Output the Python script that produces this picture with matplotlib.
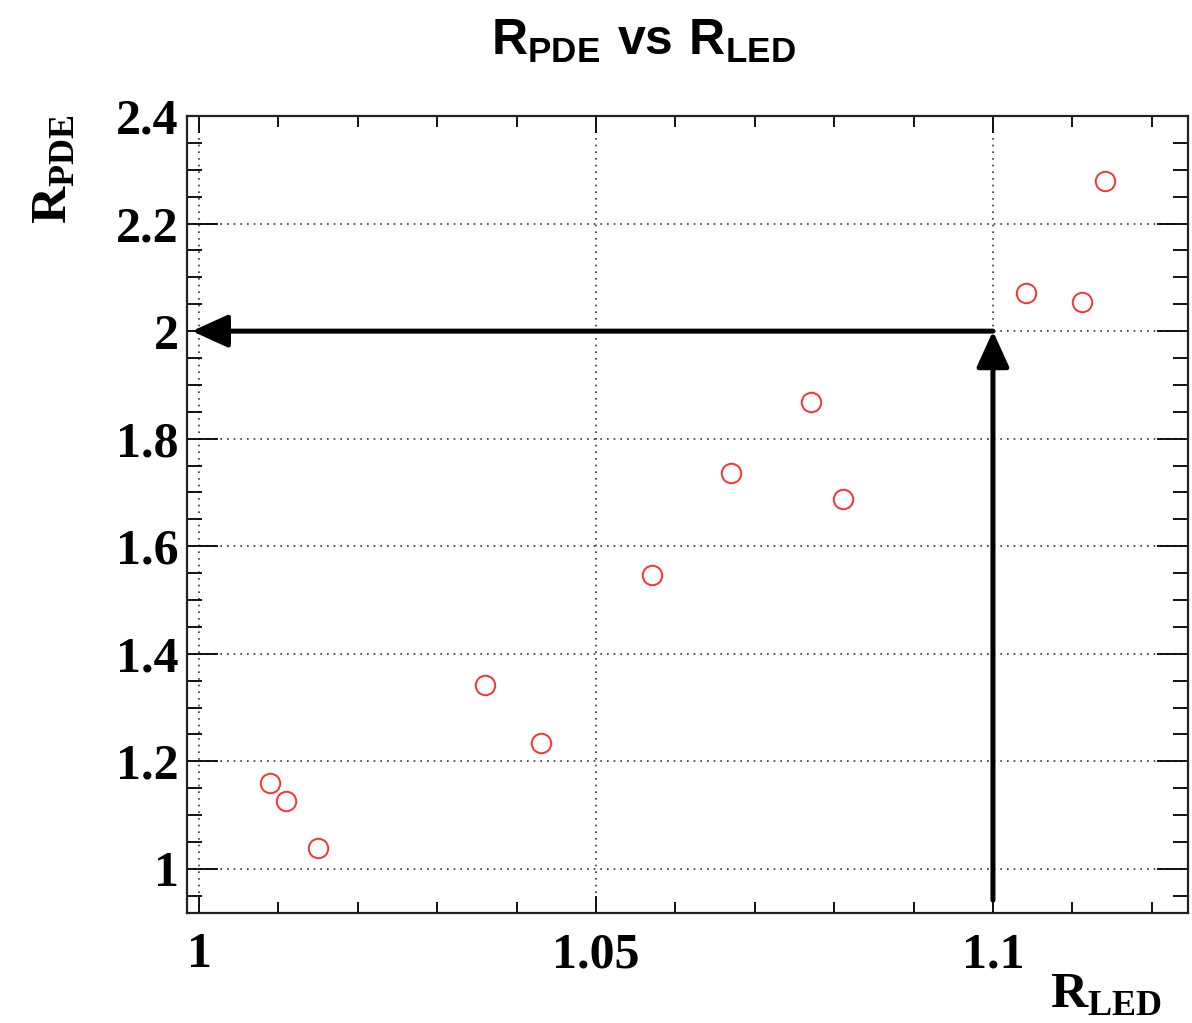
import numpy as np
import matplotlib
matplotlib.use("Agg")
import matplotlib.pyplot as plt
from matplotlib.ticker import MultipleLocator, FormatStrFormatter

plt.rcParams['mathtext.fontset'] = 'custom'
plt.rcParams['mathtext.bf'] = 'Liberation Serif:bold'
plt.rcParams['mathtext.sf'] = 'Liberation Sans:bold'
plt.rcParams['mathtext.rm'] = 'Liberation Serif:bold'

# ratio measurements
r_led = [1.0089, 1.0110, 1.0150, 1.0360, 1.0431, 1.0571, 1.0670,
         1.0771, 1.0811, 1.1042, 1.1112, 1.1141]
r_pde = [1.160, 1.126, 1.039, 1.342, 1.234, 1.547, 1.736,
         1.868, 1.688, 2.071, 2.054, 2.279]

ARROW_X = 1.1
ARROW_Y = 2.0
ARROW_START_Y = 0.942
ARROW_END_X = 0.9991

fig = plt.figure(figsize=(11.92, 10.23), dpi=100)
ax = fig.add_axes([0.1569, 0.1075, 0.8397, 0.7791])

ax.plot(r_led, r_pde, 'o', ms=14, mfc='none', mec='#ff3030', mew=1.4, zorder=5)

ax.set_xlim(0.99849, 1.12456)
ax.set_ylim(0.918, 2.4)

ax.xaxis.set_major_locator(MultipleLocator(0.05))
ax.xaxis.set_minor_locator(MultipleLocator(0.01))
ax.yaxis.set_major_locator(MultipleLocator(0.2))
ax.yaxis.set_minor_locator(MultipleLocator(0.05))
ax.xaxis.set_major_formatter(FormatStrFormatter('%g'))
ax.yaxis.set_major_formatter(FormatStrFormatter('%g'))

ax.grid(True, which='major', ls=(0, (1, 3)), color='#333333', lw=1.2)
ax.set_axisbelow(True)

ax.tick_params(axis='x', which='major', direction='in', length=12, width=1.3,
               top=True, pad=14)
ax.tick_params(axis='x', which='minor', direction='in', length=8, width=1.3, top=True)
ax.tick_params(axis='y', which='major', direction='in', length=22, width=1.3,
               right=True, pad=6)
ax.tick_params(axis='y', which='minor', direction='in', length=11, width=1.3, right=True)
for lab in ax.get_xticklabels() + ax.get_yticklabels():
    lab.set_fontfamily('Liberation Serif')
    lab.set_fontweight('bold')
    lab.set_fontsize(36)

for sp in ax.spines.values():
    sp.set_linewidth(1.6)
    sp.set_color('#222222')

# arrows
ax.annotate('', xy=(ARROW_X, ARROW_Y), xytext=(ARROW_X, ARROW_START_Y),
            arrowprops=dict(arrowstyle='-|>,head_length=1.1,head_width=0.5',
                            color='black', lw=3.6, shrinkA=0, shrinkB=0,
                            mutation_scale=20), zorder=6)
ax.annotate('', xy=(ARROW_END_X, ARROW_Y), xytext=(ARROW_X, ARROW_Y),
            arrowprops=dict(arrowstyle='-|>,head_length=1.1,head_width=0.5',
                            color='black', lw=3.6, shrinkA=0, shrinkB=0,
                            mutation_scale=20), zorder=6)

# titles and labels
fig.text(0.540, 0.946, r'$\mathsf{R}_{\mathsf{PDE}}\mathsf{\ vs\ R}_{\mathsf{LED}}$',
         fontsize=36, ha='center', va='baseline')
fig.text(0.975, 0.0147, r'$\mathbf{R}_{\mathbf{LED}}$',
         fontsize=37, ha='right', va='baseline')
fig.text(0.0235, 0.888, r'$\mathbf{R}_{\mathbf{PDE}}$',
         fontsize=37, ha='left', va='top', rotation=90)

fig.savefig('out.png', dpi=100)
